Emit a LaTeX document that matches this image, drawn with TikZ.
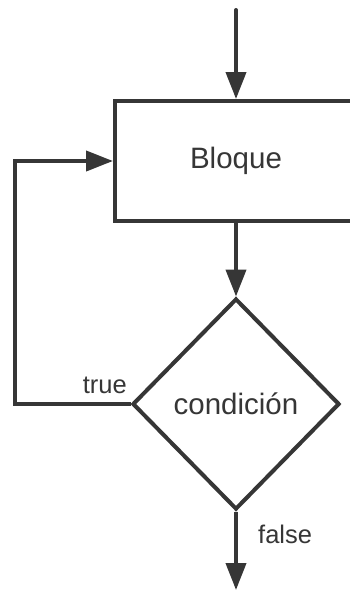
\documentclass[tikz,border=0pt]{standalone}
\usepackage{fontspec}
\setmainfont{Liberation Sans}
\usetikzlibrary{arrows.meta,shapes.geometric}
\definecolor{ink}{HTML}{363636}
\tikzset{
  box/.style={draw=ink, line width=4pt, rectangle, minimum width=242pt, minimum height=120pt, inner sep=0pt, text=ink, font=\fontsize{29.5}{30}\selectfont},
  cond/.style={draw=ink, line width=4pt, diamond, minimum width=207pt, minimum height=211pt, inner sep=0pt, text=ink, font=\fontsize{29.5}{30}\selectfont},
  conn/.style={draw=ink, line width=4pt},
  arr/.style={conn, -{Triangle[width=20pt,length=27pt]}},
  lbl/.style={text=ink, font=\fontsize{25.5}{26}\selectfont, inner sep=0pt}
}
\begin{document}
\begin{tikzpicture}[x=1pt,y=-1pt]
\clip (0,0) rectangle (350,590);
\fill[white] (0,0) rectangle (350,590);
\node[box] (bloque) at (236,161) {Bloque};
\node[cond] (condicion) at (236,404) {condición};
\coordinate (start) at (236,10);
\coordinate (stop) at (236,590);
\coordinate (loopc) at (15,404);
\draw[arr, line cap=round] (start) -- (bloque.north);
\draw[arr] (bloque.south) -- (condicion.north);
\draw[arr] (condicion.south) -- (stop);
\draw[arr, line join=miter] (condicion.west) -- (loopc) |- (bloque.west);
\node[lbl, anchor=base east] (truelbl) at (127,393) {true};
\node[lbl, anchor=base west] (falselbl) at (258,543) {false};
\end{tikzpicture}
\end{document}
